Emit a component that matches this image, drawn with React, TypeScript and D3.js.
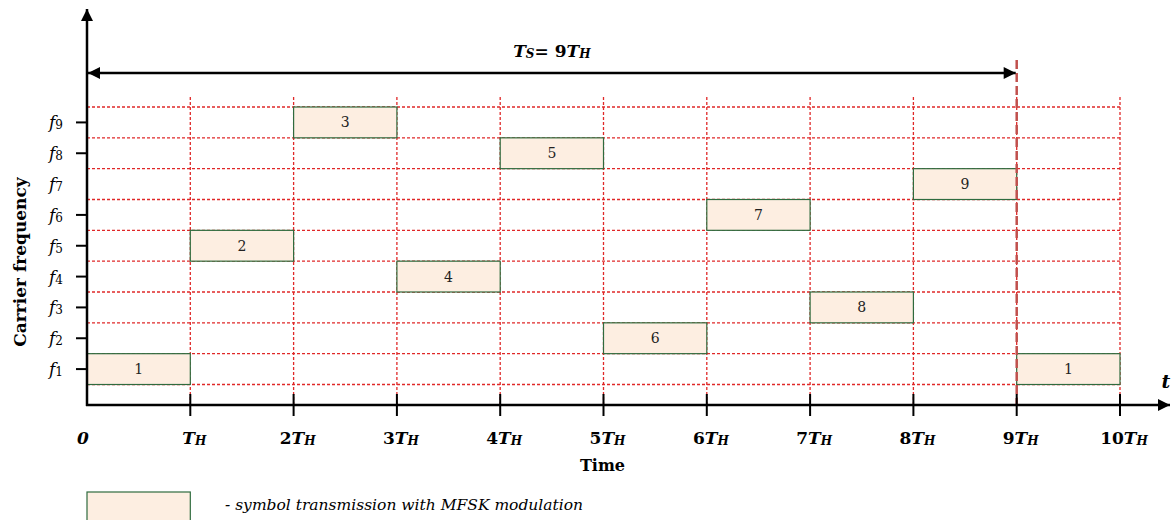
import React from 'react';
import * as d3 from 'd3';

// symbol hopping pattern: slot i carries symbol symbolIds[i] on frequency symbolFreqs[i]
const slots = [0, 1, 2, 3, 4, 5, 6, 7, 8, 9];
const symbolIds = [1, 2, 3, 4, 5, 6, 7, 8, 9, 1];
const symbolFreqs = [1, 5, 9, 4, 8, 2, 6, 3, 7, 1];
const freqLabels = [1, 2, 3, 4, 5, 6, 7, 8, 9];
const freqTicks = [1, 2, 3, 4, 5, 6, 8, 9];
const timeTicks = [0, 1, 2, 3, 4, 5, 6, 7, 8, 9, 10];
const symbolPeriod = 9;

const FONT = "'DejaVu Serif', 'Liberation Serif', serif";
const GRID = '#e02828';
const BOX_FILL = '#fdeee1';
const BOX_STROKE = '#2f6b3e';

const W = 1172;
const H = 520;

export default function App() {
  const x = d3.scaleLinear().domain([0, 10]).range([87, 1120]);
  const y = d3.scaleLinear().domain([0.5, 9.5]).range([384.5, 107]);
  const axisY = 405;
  const gridTop = 97;
  const band = Math.abs(y(1) - y(2));

  const tickLabel = (t: number) => {
    if (t === 0) return <tspan fontStyle="italic">0</tspan>;
    return (
      <>
        {t > 1 && <tspan>{t}</tspan>}
        <tspan fontStyle="italic">T</tspan>
        <tspan fontStyle="italic" fontSize={12} dy={1}>H</tspan>
      </>
    );
  };

  return (
    <svg width={W} height={H} style={{ position: 'absolute', left: 0, top: 0 }} fontFamily={FONT}>
      <defs>
        <marker id="ah" viewBox="0 0 10 10" refX={10} refY={5} markerWidth={14} markerHeight={12}
          markerUnits="userSpaceOnUse" orient="auto-start-reverse">
          <path d="M0,0 L10,5 L0,10 z" fill="#000" />
        </marker>
      </defs>

      {/* horizontal grid (band edges) */}
      {d3.range(0.5, 10, 1).map((v) => (
        <line key={'h' + v} x1={x(0)} x2={x(10)} y1={y(v)} y2={y(v)}
          stroke={GRID} strokeWidth={1.3} strokeDasharray="3,2" />
      ))}
      {/* vertical grid */}
      {timeTicks.slice(1).map((t) => (
        <line key={'v' + t} x1={x(t)} x2={x(t)} y1={gridTop} y2={axisY}
          stroke={GRID} strokeWidth={1.3} strokeDasharray="3,2" />
      ))}

      {/* symbol boxes */}
      {slots.map((s, i) => (
        <g key={'b' + i}>
          <rect x={x(s)} y={y(symbolFreqs[i] + 0.5)} width={x(s + 1) - x(s)} height={band}
            fill={BOX_FILL} stroke={BOX_STROKE} strokeWidth={1.2} />
          <text x={(x(s) + x(s + 1)) / 2} y={y(symbolFreqs[i]) + 5} textAnchor="middle"
            fontSize={14} fill="#222">{symbolIds[i]}</text>
        </g>
      ))}

      {/* symbol period marker */}
      <line x1={x(symbolPeriod)} x2={x(symbolPeriod)} y1={60} y2={axisY}
        stroke="#c0504d" strokeWidth={2.5} strokeDasharray="9,4" />
      <line x1={x(0) + 1} x2={x(symbolPeriod) - 1} y1={73} y2={73} stroke="#000" strokeWidth={2.5}
        markerStart="url(#ah)" markerEnd="url(#ah)" />
      <text x={(x(0) + x(symbolPeriod)) / 2} y={57} textAnchor="middle" fontSize={17} fontWeight="bold">
        <tspan fontStyle="italic">T</tspan>
        <tspan fontStyle="italic" fontSize={12} dy={1}>S</tspan>
        <tspan dy={-1}>{'= ' + symbolPeriod}</tspan>
        <tspan fontStyle="italic">T</tspan>
        <tspan fontStyle="italic" fontSize={12} dy={1}>H</tspan>
      </text>

      {/* axes */}
      <line x1={x(0)} x2={x(0)} y1={axisY + 1} y2={9} stroke="#000" strokeWidth={2.5} markerEnd="url(#ah)" />
      <line x1={x(0) - 1} x2={1170} y1={axisY} y2={axisY} stroke="#000" strokeWidth={2.5} markerEnd="url(#ah)" />

      {/* x ticks */}
      {timeTicks.slice(1).map((t) => (
        <line key={'xt' + t} x1={x(t)} x2={x(t)} y1={axisY - 11} y2={axisY + 11} stroke="#000" strokeWidth={2} />
      ))}
      {timeTicks.map((t) => (
        <text key={'xl' + t} x={t === 0 ? x(t) - 4 : x(t) + 4} y={444} textAnchor="middle"
          fontSize={17} fontWeight="bold">{tickLabel(t)}</text>
      ))}

      {/* y ticks */}
      {freqTicks.map((f) => (
        <line key={'yt' + f} x1={x(0) - 11} x2={x(0)} y1={y(f)} y2={y(f)} stroke="#000" strokeWidth={2} />
      ))}
      {freqLabels.map((f) => (
        <text key={'yl' + f} x={56} y={y(f) + 6} textAnchor="middle" fontSize={17}>
          <tspan fontStyle="italic">f</tspan>
          <tspan fontSize={12} dy={1}>{f}</tspan>
        </text>
      ))}

      {/* axis titles */}
      <text transform="translate(26,262) rotate(-90)" textAnchor="middle"
        fontSize={17} fontWeight="bold">Carrier frequency</text>
      <text x={(x(0) + x(10)) / 2 - 1} y={471} textAnchor="middle" fontSize={16} fontWeight="bold">Time</text>
      <text x={1166} y={388} textAnchor="middle" fontSize={19} fontWeight="bold" fontStyle="italic">t</text>

      {/* legend */}
      <rect x={x(0)} y={492} width={x(1) - x(0)} height={40} fill={BOX_FILL} stroke={BOX_STROKE} strokeWidth={1.2} />
      <text x={225} y={510} fontSize={15.5} fontStyle="italic">- symbol transmission with MFSK modulation</text>
    </svg>
  );
}
